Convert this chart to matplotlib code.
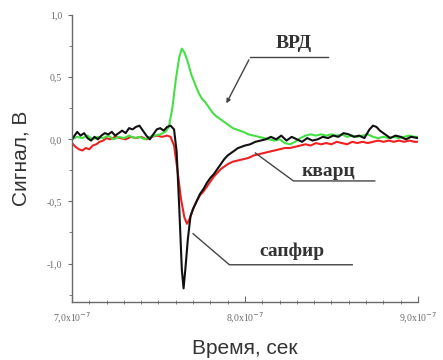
import matplotlib
matplotlib.use("Agg")
import matplotlib.pyplot as plt
from matplotlib.ticker import MultipleLocator

# time in units of 1e-7 s, signal in V
t_vrd = [7.00, 7.03, 7.06, 7.09, 7.12, 7.15, 7.18, 7.21, 7.24, 7.27, 7.30, 7.33,
         7.36, 7.39, 7.42, 7.45, 7.48, 7.51, 7.54, 7.56, 7.58, 7.60, 7.62, 7.635,
         7.65, 7.67, 7.69, 7.71, 7.73, 7.75, 7.77, 7.79, 7.81, 7.83, 7.85, 7.87,
         7.89, 7.91, 7.93, 7.95, 7.97, 7.99, 8.02, 8.05, 8.08, 8.11, 8.14, 8.17,
         8.20, 8.23, 8.26, 8.29, 8.32, 8.35, 8.38, 8.41, 8.44, 8.47, 8.50, 8.53,
         8.56, 8.59, 8.62, 8.65, 8.68, 8.71, 8.74, 8.77, 8.80, 8.83, 8.86, 8.89,
         8.92, 8.95, 8.98, 9.00]
v_vrd = [0.00, 0.02, 0.01, 0.03, 0.00, 0.02, 0.01, 0.03, 0.00, 0.02, 0.01, 0.03,
         0.01, 0.02, 0.00, 0.02, 0.03, 0.04, 0.06, 0.10, 0.25, 0.48, 0.66, 0.73,
         0.70, 0.62, 0.52, 0.45, 0.38, 0.33, 0.30, 0.26, 0.22, 0.19, 0.17, 0.15,
         0.13, 0.11, 0.09, 0.08, 0.07, 0.06, 0.04, 0.03, 0.02, 0.01, 0.00, -0.01,
         0.00, -0.03, -0.04, -0.02, 0.01, 0.03, 0.04, 0.03, 0.04, 0.03, 0.04, 0.03,
         0.04, 0.02, 0.03, 0.02, 0.03, 0.04, 0.02, 0.01, 0.02, 0.01, 0.02, 0.01,
         0.02, 0.03, 0.02, 0.02]

t_quartz = [7.00, 7.02, 7.04, 7.06, 7.08, 7.10, 7.12, 7.14, 7.16, 7.18, 7.20, 7.22,
            7.25, 7.28, 7.31, 7.34, 7.37, 7.40, 7.43, 7.46, 7.49, 7.52, 7.55, 7.57,
            7.59, 7.61, 7.63, 7.65, 7.665, 7.68, 7.70, 7.72, 7.74, 7.76, 7.78, 7.80,
            7.82, 7.84, 7.86, 7.88, 7.90, 7.93, 7.96, 7.99, 8.02, 8.05, 8.08, 8.11,
            8.14, 8.17, 8.20, 8.23, 8.26, 8.29, 8.32, 8.35, 8.38, 8.41, 8.44, 8.47,
            8.50, 8.53, 8.56, 8.59, 8.62, 8.65, 8.68, 8.71, 8.74, 8.77, 8.80, 8.83,
            8.86, 8.89, 8.92, 8.95, 8.98, 9.00]
v_quartz = [-0.03, -0.06, -0.08, -0.09, -0.07, -0.08, -0.05, -0.04, -0.02, -0.01, 0.01, 0.00,
            0.02, 0.01, 0.00, 0.02, 0.01, 0.02, 0.00, 0.02, 0.03, 0.02, 0.03, 0.02,
            -0.05, -0.25, -0.48, -0.63, -0.68, -0.64, -0.56, -0.50, -0.45, -0.42, -0.38, -0.34,
            -0.30, -0.27, -0.24, -0.22, -0.20, -0.18, -0.17, -0.16, -0.15, -0.13, -0.12, -0.11,
            -0.10, -0.09, -0.08, -0.07, -0.07, -0.06, -0.05, -0.04, -0.05, -0.03, -0.04, -0.03,
            -0.04, -0.02, -0.03, -0.04, -0.02, -0.03, -0.02, -0.03, -0.02, -0.01, -0.02, -0.01,
            -0.02, -0.01, -0.02, -0.01, -0.02, -0.02]

t_sapph = [7.00, 7.02, 7.03, 7.05, 7.07, 7.09, 7.11, 7.13, 7.15, 7.17, 7.19, 7.21,
           7.23, 7.25, 7.27, 7.29, 7.31, 7.33, 7.35, 7.37, 7.39, 7.41, 7.43, 7.45,
           7.47, 7.49, 7.51, 7.53, 7.55, 7.57, 7.59, 7.605, 7.62, 7.635, 7.645, 7.655,
           7.67, 7.685, 7.70, 7.72, 7.74, 7.76, 7.78, 7.80, 7.82, 7.84, 7.86, 7.88,
           7.90, 7.92, 7.94, 7.96, 7.98, 8.00, 8.03, 8.06, 8.09, 8.12, 8.15, 8.18,
           8.21, 8.24, 8.27, 8.30, 8.33, 8.36, 8.39, 8.42, 8.45, 8.48, 8.51, 8.54,
           8.57, 8.60, 8.63, 8.66, 8.69, 8.72, 8.74, 8.76, 8.78, 8.80, 8.82, 8.84,
           8.87, 8.90, 8.93, 8.96, 9.00]
v_sapph = [0.00, 0.04, 0.06, 0.03, 0.05, 0.01, -0.01, 0.02, 0.00, 0.03, 0.05, 0.04,
           0.06, 0.03, 0.05, 0.07, 0.05, 0.09, 0.08, 0.10, 0.11, 0.07, 0.03, 0.00,
           0.04, 0.08, 0.09, 0.07, 0.10, 0.11, 0.08, -0.10, -0.55, -1.05, -1.20, -1.05,
           -0.80, -0.62, -0.56, -0.50, -0.44, -0.40, -0.35, -0.31, -0.28, -0.24, -0.20, -0.16,
           -0.13, -0.11, -0.09, -0.07, -0.06, -0.05, -0.04, -0.02, -0.01, 0.00, 0.02, 0.00,
           0.03, -0.01, 0.02, 0.00, -0.02, 0.01, -0.01, 0.00, 0.02, 0.01, 0.03, 0.02,
           0.05, 0.04, 0.02, 0.03, 0.01, 0.08, 0.11, 0.10, 0.07, 0.05, 0.03, 0.01,
           0.03, 0.02, 0.00, 0.02, 0.01]

x_ticks = [7.0, 8.0, 9.0]
x_ticklabels = [r"7,0x10$^{-7}$", r"8,0x10$^{-7}$", r"9,0x10$^{-7}$"]
y_ticks = [-1.0, -0.5, 0.0, 0.5, 1.0]
y_ticklabels = ["-1,0", "-0,5", "0,0", "0,5", "1,0"]

GRAY = "#6a6a6a"
serif = ["Liberation Serif", "DejaVu Serif"]

fig = plt.figure(figsize=(4.43, 3.6), dpi=100)
ax = fig.add_axes([0.1625, 0.161, 0.781, 0.797])

ax.plot(t_quartz, v_quartz, color="#ee2020", lw=1.5)
ax.plot(t_vrd, v_vrd, color="#44e044", lw=1.5)
ax.plot(t_sapph, v_sapph, color="#111111", lw=1.5)

ax.set_xlim(7.0, 9.0)
ax.set_ylim(-1.31, 1.0)

for s in ["top", "right"]:
    ax.spines[s].set_visible(False)
for s in ["left", "bottom"]:
    ax.spines[s].set_color(GRAY)
    ax.spines[s].set_linewidth(1.0)

ax.set_xticks(x_ticks)
ax.set_xticklabels(x_ticklabels, fontfamily=serif, fontsize=7, color=GRAY)
ax.set_yticks(y_ticks)
ax.set_yticklabels(y_ticklabels, fontfamily=serif, fontsize=7, color=GRAY)
ax.xaxis.set_minor_locator(MultipleLocator(0.1))
ax.yaxis.set_minor_locator(MultipleLocator(0.25))
ax.tick_params(axis="x", which="major", direction="in", length=4, color=GRAY, pad=6)
ax.tick_params(axis="x", which="minor", direction="inout", length=3, color=GRAY)
ax.tick_params(axis="y", which="major", direction="out", length=3, color=GRAY, pad=4)
ax.tick_params(axis="y", which="minor", direction="out", length=2, color=GRAY)

ax.set_ylabel("Сигнал, В", fontfamily="Liberation Sans", fontsize=15, color="#333333", labelpad=12)
ax.set_xlabel("Время, сек", fontfamily="Liberation Sans", fontsize=15, color="#333333", labelpad=10)

# annotations with leader lines
LC = "#444444"
TC = "#333333"
ax.plot([8.48, 8.03], [0.66, 0.66], color=LC, lw=1.0)
ax.annotate("", xy=(7.885, 0.27), xytext=(8.03, 0.66),
            arrowprops=dict(arrowstyle="-|>", color=LC, lw=1.0, mutation_scale=6))
ax.text(8.28, 0.77, "ВРД", fontfamily=serif, fontsize=14, fontweight="bold",
        color=TC, ha="center", va="center")

ax.plot([8.06, 8.28, 8.75], [-0.11, -0.335, -0.335], color=LC, lw=1.0)
ax.text(8.48, -0.255, "кварц", fontfamily=serif, fontsize=14, fontweight="bold",
        color=TC, ha="center", va="center")

ax.plot([7.70, 7.91, 8.62], [-0.76, -1.01, -1.01], color=LC, lw=1.0)
ax.text(8.27, -0.9, "сапфир", fontfamily=serif, fontsize=14, fontweight="bold",
        color=TC, ha="center", va="center")

fig.savefig("out.png", dpi=100)
